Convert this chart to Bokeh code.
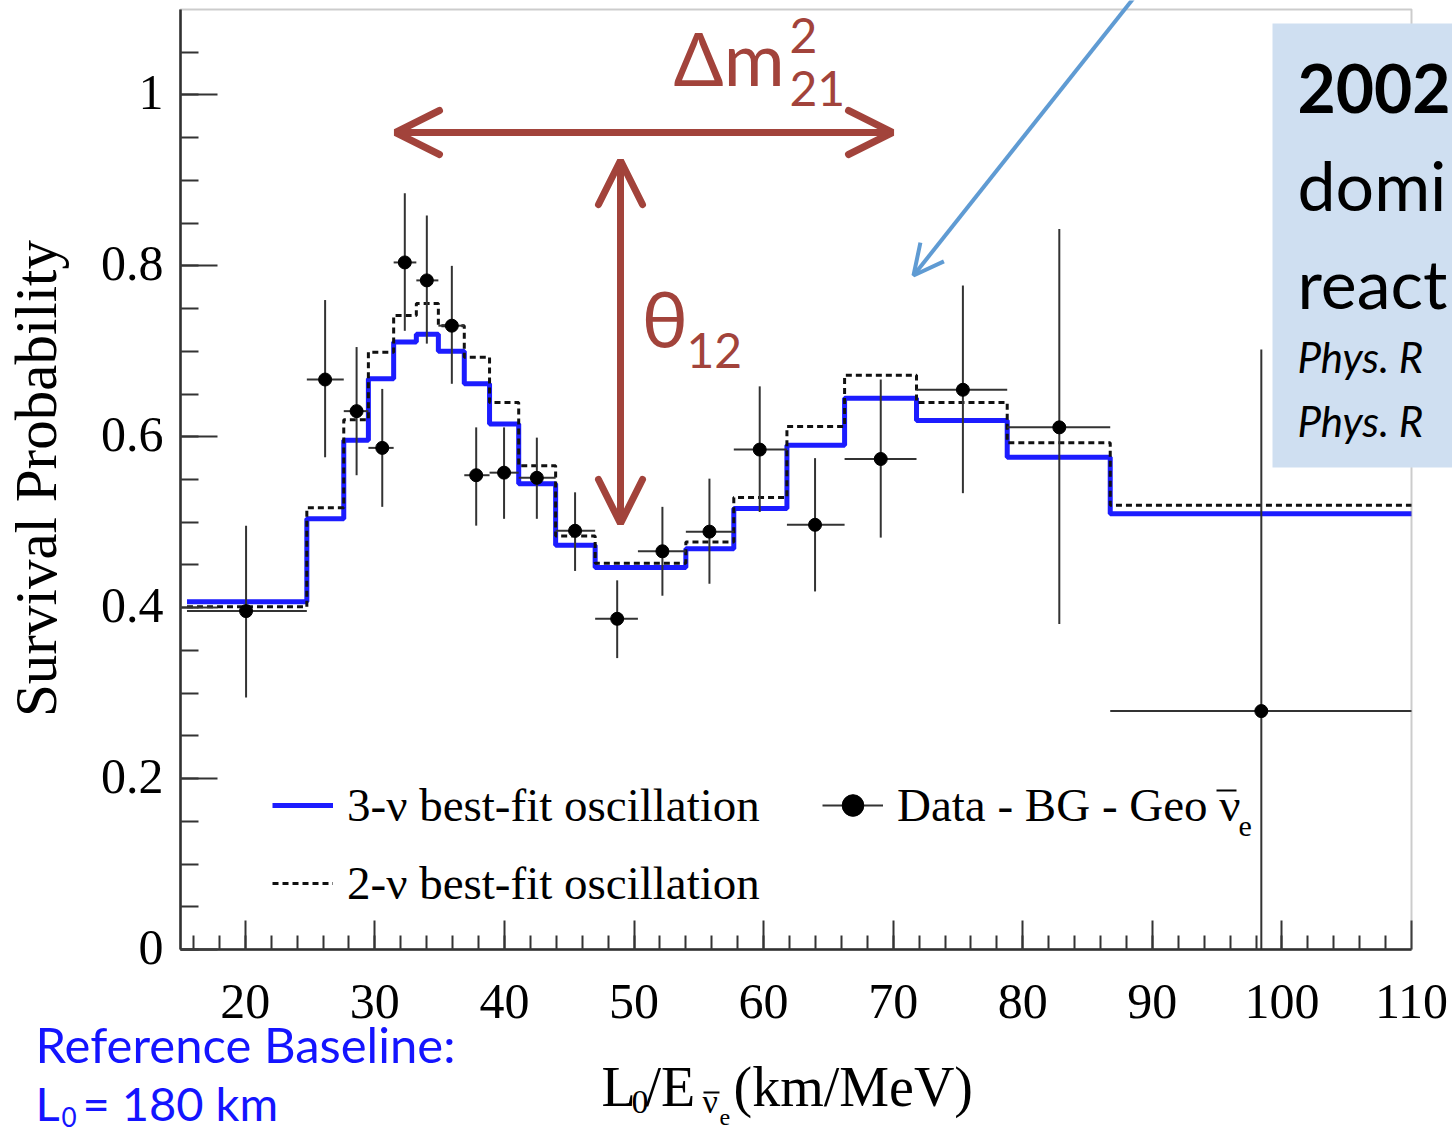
from math import pi
from bokeh.plotting import figure
from bokeh.core.properties import value
from bokeh.models import (FixedTicker, Label, Arrow, OpenHead, BoxAnnotation,
                          CustomJSTickFormatter, Legend, LegendItem)
from bokeh.embed import file_html
from bokeh.resources import INLINE

# ---------------- data ----------------
bin_edges = [15.5, 24.75, 27.6, 29.5, 31.45, 33.2, 34.9, 36.9, 38.85, 41.1, 43.95,
             47.0, 50.3, 54.0, 57.7, 61.8, 66.25, 71.8, 78.8, 86.75, 110.0]
prob_3nu = [0.407, 0.504, 0.596, 0.668, 0.711, 0.720, 0.700, 0.662, 0.615, 0.545,
            0.473, 0.447, 0.447, 0.469, 0.516, 0.590, 0.645, 0.619, 0.576, 0.510]
prob_2nu = [0.401, 0.517, 0.620, 0.699, 0.742, 0.756, 0.730, 0.693, 0.640, 0.566,
            0.484, 0.452, 0.452, 0.477, 0.529, 0.612, 0.672, 0.640, 0.593, 0.520]
data_x = [20.06, 26.16, 28.59, 30.57, 32.31, 34.01, 35.94, 37.82, 39.97, 42.50,
          45.45, 48.70, 52.19, 55.82, 59.70, 63.97, 69.04, 75.38, 82.82, 98.41]
data_y = [0.396, 0.667, 0.630, 0.587, 0.804, 0.783, 0.730, 0.555, 0.558, 0.552,
          0.490, 0.387, 0.466, 0.489, 0.585, 0.497, 0.574, 0.655, 0.611, 0.279]
data_y_low = [0.295, 0.576, 0.555, 0.518, 0.724, 0.709, 0.662, 0.496, 0.504, 0.504,
              0.443, 0.341, 0.414, 0.428, 0.512, 0.419, 0.482, 0.534, 0.381, -0.145]
data_y_high = [0.496, 0.760, 0.705, 0.656, 0.885, 0.859, 0.800, 0.611, 0.611, 0.599,
               0.535, 0.432, 0.518, 0.551, 0.659, 0.575, 0.667, 0.777, 0.843, 0.702]
data_x_low = bin_edges[:-1]
data_x_high = bin_edges[1:]

x_tick_values = [20, 30, 40, 50, 60, 70, 80, 90, 100, 110]
x_tick_labels = ["20", "30", "40", "50", "60", "70", "80", "90", "100", "110"]
x_minor_values = list(range(16, 110, 2))
y_tick_values = [0.0, 0.2, 0.4, 0.6, 0.8, 1.0]
y_tick_labels = ["0", "0.2", "0.4", "0.6", "0.8", "1"]
y_minor_values = [round(0.05 * i, 2) for i in range(22)]
x_axis_span = (15.0, 110.0)
y_axis_span = (0.0, 1.1)

# ---------------- layout (the frame fills the whole canvas) ----------------
W, H = 1452, 1132
AX_LEFT_PX, AX_BOTTOM_PX = 180, 949     # where x=15 and y=0 fall on the canvas
PX_PER_X = 1231 / 95.0
PX_PER_Y = 940 / 1.1


def X(px):
    return x_axis_span[0] + (px - AX_LEFT_PX) / PX_PER_X


def Y(py):
    return y_axis_span[0] + (AX_BOTTOM_PX - py) / PX_PER_Y


BLUE = "#1c1cff"
RED = "#a2433b"
ERR = "#333333"
SLIDE_BLUE = "#1414ff"
SERIF = "Liberation Serif"
SANS = "Lato"
BASE_SHIFT = 0.385   # Bokeh draws the alphabetic baseline ~0.385 em lower

p = figure(width=W, height=H, x_range=(X(0), X(W)), y_range=(Y(H), Y(0)),
           output_backend="svg", toolbar_location=None,
           min_border_left=0, min_border_right=0,
           min_border_top=0, min_border_bottom=0)
p.grid.visible = False
p.outline_line_color = None
p.background_fill_color = "white"
p.border_fill_color = "white"

blank = CustomJSTickFormatter(code="return '';")
for ax, span, tin, tmin, ticks, minors, loc in [
        (p.xaxis[0], x_axis_span, 29, 14, x_tick_values, x_minor_values, y_axis_span[0]),
        (p.yaxis[0], y_axis_span, 37, 18, y_tick_values, y_minor_values, x_axis_span[0])]:
    ax.ticker = FixedTicker(ticks=ticks, minor_ticks=minors)
    ax.fixed_location = loc
    ax.bounds = span
    ax.major_tick_in = tin
    ax.major_tick_out = 0
    ax.minor_tick_in = tmin
    ax.minor_tick_out = 0
    ax.axis_line_width = 2.5
    ax.axis_line_color = "#222222"
    ax.major_tick_line_color = "#333333"
    ax.minor_tick_line_color = "#333333"
    ax.major_tick_line_width = 2
    ax.minor_tick_line_width = 2
    ax.formatter = blank
    ax.major_label_text_font_size = "1px"
    ax.major_label_standoff = 0

# tick labels, drawn at the tick values through the plot's scales
p.text(x=x_tick_values, y=[y_axis_span[0]] * len(x_tick_values), text=x_tick_labels,
       text_font=value(SERIF), text_font_size="50px", text_color="black",
       text_align="center", text_baseline="alphabetic",
       y_offset=(1020 - AX_BOTTOM_PX) - BASE_SHIFT * 50)
p.text(x=[x_axis_span[0]] * len(y_tick_values), y=y_tick_values, text=y_tick_labels,
       text_font=value(SERIF), text_font_size="50px", text_color="black",
       text_align="right", text_baseline="alphabetic",
       x_offset=-17, y_offset=17 - BASE_SHIFT * 50)

# top and right frame lines
p.add_layout(BoxAnnotation(left=x_axis_span[0], right=x_axis_span[1],
                           bottom=y_axis_span[0], top=y_axis_span[1],
                           fill_alpha=0, line_color="#555555", line_width=2))

# ---------------- histograms and data ----------------
blue = p.step(x=bin_edges, y=prob_3nu + prob_3nu[-1:], mode="after",
              line_color=BLUE, line_width=5)
dash = p.step(x=bin_edges, y=prob_2nu + prob_2nu[-1:], mode="after",
              line_color="#111111", line_width=3, line_dash="6 4")
# error bars are cut at the lower edge of the axes, as in the original
shown_low = [max(v, y_axis_span[0]) for v in data_y_low]
vseg = p.segment(x0=data_x, y0=shown_low, x1=data_x, y1=data_y_high,
                 line_color=ERR, line_width=2)
hseg = p.segment(x0=data_x_low, y0=data_y, x1=data_x_high, y1=data_y,
                 line_color=ERR, line_width=2)
dots = p.scatter(x=data_x, y=data_y, size=13, marker="circle",
                 fill_color="black", line_color="black")

legend = Legend(items=[
    LegendItem(label="3-ν best-fit oscillation", renderers=[blue]),
    LegendItem(label="2-ν best-fit oscillation", renderers=[dash]),
    LegendItem(label="Data - BG - Geo ν", renderers=[hseg, dots]),
], orientation="vertical", nrows=2, location=(272, H - 910),
    glyph_width=61, glyph_height=54, label_height=54, label_width=451,
    label_standoff=14, spacing=24, padding=0, margin=0,
    border_line_color=None, background_fill_alpha=0,
    label_text_font=SERIF, label_text_font_size="47px", label_text_color="black")
p.add_layout(legend)


# ---------------- annotations ----------------
def lab(px, py, text, font=SERIF, size=50, color="black", style="normal"):
    p.add_layout(Label(x=X(px), y=Y(py - BASE_SHIFT * size), text=text, text_font=font,
                       text_font_size=f"{size}px", text_color=color,
                       text_font_style=style, text_align="left",
                       text_baseline="alphabetic"))


def bar(px0, px1, py, color="black", width=2):
    p.add_layout(Arrow(x_start=X(px0), y_start=Y(py), x_end=X(px1), y_end=Y(py),
                       start=None, end=None, line_color=color, line_width=width))


# legend anti-neutrino decorations
bar(1216, 1236, 790)
lab(1238, 838, "e", size=30)

# axis titles
p.add_layout(Label(x=X(35), y=Y(478), text="Survival Probability", angle=pi / 2,
                   text_font=SERIF, text_font_size="59px", text_color="black",
                   text_align="center", text_baseline="middle"))
lab(601, 1108, "L", size=56)
lab(631, 1115, "0", size=34)
lab(645, 1108, "/E", size=56)
lab(702, 1114, "ν", size=34)
bar(703, 719, 1092, width=2)
lab(719, 1126, "e", size=24)
lab(733, 1108, "(km/MeV)", size=56)

# blue slide text
lab(35, 1062, "Reference Baseline:", font=SANS, size=49, color=SLIDE_BLUE)
lab(35, 1121, "L", font=SANS, size=47, color=SLIDE_BLUE)
lab(61, 1127, "0", font=SANS, size=26, color=SLIDE_BLUE)
lab(82, 1121, "= 180 km", font=SANS, size=47, color=SLIDE_BLUE)

# oscillation-parameter arrows
for (x0, y0, x1, y1) in [(395, 132, 892, 132), (620, 160, 620, 523)]:
    p.add_layout(Arrow(x_start=X(x0), y_start=Y(y0), x_end=X(x1), y_end=Y(y1),
                       start=OpenHead(size=44, line_color=RED, line_width=7, line_cap="round"),
                       end=OpenHead(size=44, line_color=RED, line_width=7, line_cap="round"),
                       line_color=RED, line_width=7))
lab(673, 85, "Δm", font=SANS, size=74, color=RED)
lab(789, 53, "2", font=SANS, size=48, color=RED)
lab(789, 106, "21", font=SANS, size=48, color=RED)
lab(641, 348, "θ", font=SANS, size=78, color=RED)
lab(686, 368, "12", font=SANS, size=48, color=RED)

# callout arrow and box
p.add_layout(Arrow(x_start=X(1136), y_start=Y(-6), x_end=X(913), y_end=Y(275),
                   end=OpenHead(size=30, line_color="#5f9bd3", line_width=4),
                   line_color="#5f9bd3", line_width=4))
p.add_layout(BoxAnnotation(left=X(1272), right=X(1470), top=Y(23), bottom=Y(467),
                           fill_color="#cfdff1", fill_alpha=1.0, line_color=None))
lab(1297, 113, "2002", font=SANS, size=66, style="bold")
lab(1297, 210, "domi", font=SANS, size=68)
lab(1297, 308, "react", font=SANS, size=68)
lab(1297, 373, "Phys. R", font=SANS, size=42, style="italic")
lab(1297, 437, "Phys. R", font=SANS, size=42, style="italic")

open("out.html", "w").write(file_html(p, INLINE))
